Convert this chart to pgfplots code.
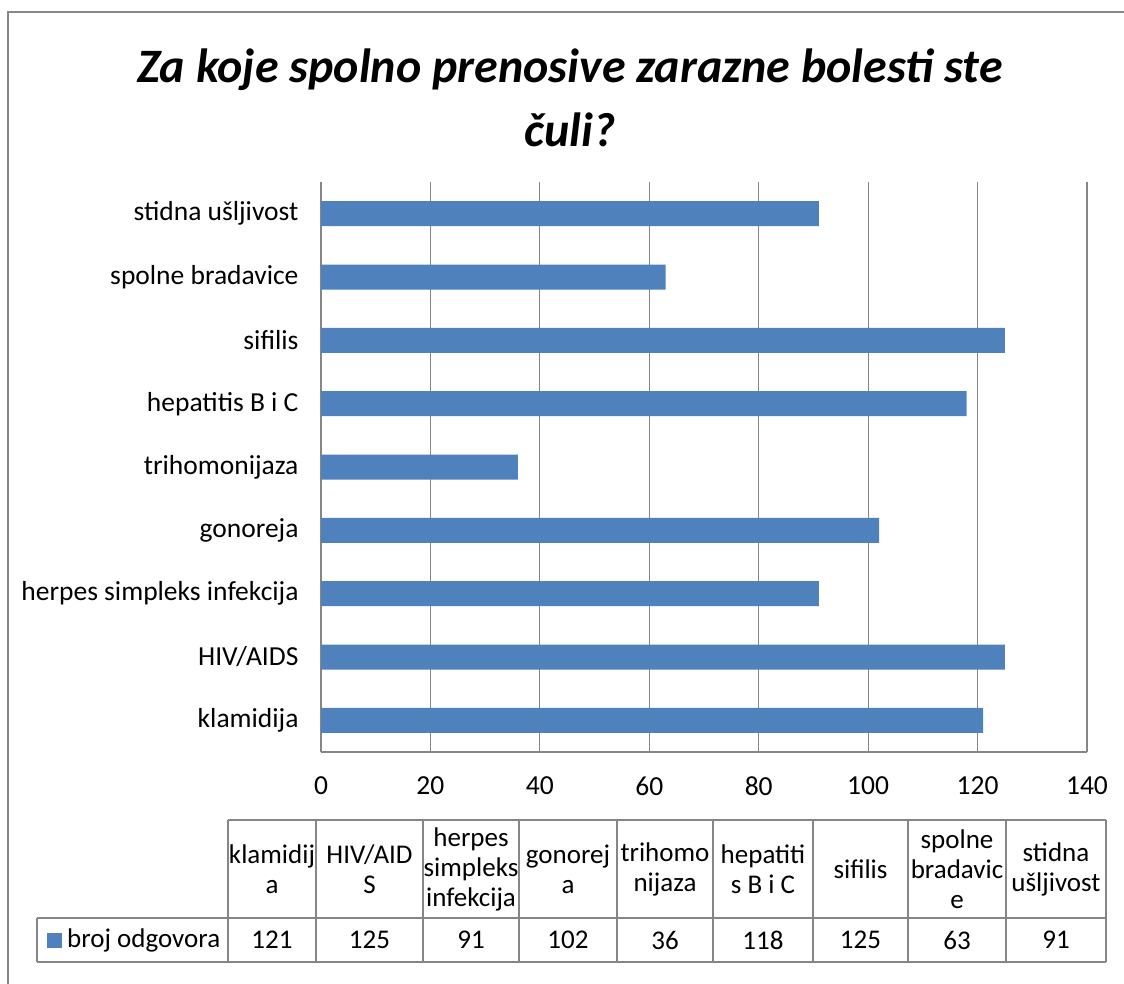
\documentclass[border=0pt]{standalone}
\usepackage{fontspec}
\setmainfont{Carlito}
\usepackage{pgfplots}
\pgfplotsset{compat=1.18}
\definecolor{barblue}{HTML}{4F81BD}
\definecolor{gridgray}{HTML}{868686}
\begin{document}
\begin{tikzpicture}[x=1pt,y=-1pt]
\useasboundingbox (0,0) rectangle (1124,983);
\draw[gridgray, line width=1.3pt] (8,990) -- (8,12) -- (1130,12);
\node[font=\fontsize{48}{56}\selectfont\bfseries\itshape] at (570,70) {Za koje spolno prenosive zarazne bolesti ste};
\node[font=\fontsize{48}{56}\selectfont\bfseries\itshape] at (570,130) {čuli?};
\begin{axis}[
  at={(321pt,-752pt)}, anchor=south west,
  scale only axis, width=766pt, height=570pt,
  xmin=0, xmax=140, ymin=-0.5, ymax=8.5,
  xtick={0,20,...,140}, ytick={0,...,8},
  yticklabels={klamidija,HIV/AIDS,herpes simpleks infekcija,gonoreja,trihomonijaza,hepatitis B i C,sifilis,spolne bradavice,stidna ušljivost},
  xmajorgrids, major grid style={gridgray, line width=1.2pt},
  axis x line*=bottom, axis y line*=left,
  axis line style={-, gridgray, line width=1.4pt},
  major tick length=0pt, tick style={draw=none},
  ticklabel style={font=\fontsize{27.5}{33}\selectfont},
  /pgf/number format/assume math mode=true,
  xticklabel style={yshift=-21pt},
  yticklabel style={xshift=-19pt},
  xbar, bar width=25pt,
]
\addplot[fill=barblue, draw=none] coordinates {(121,0) (125,1) (91,2) (102,3) (36,4) (118,5) (125,6) (63,7) (91,8)};
\end{axis}
% data table
\begin{scope}[gridgray, line width=1.2pt]
\draw (228,820) -- (1106,820);
\draw (37,918) -- (1106,918);
\draw (37,962) -- (1106,962);
\draw (37,918) -- (37,962);
\foreach \xx in {228,316,423,519,617,713,813,908,1006,1106} {\draw (\xx,820) -- (\xx,962);}
\end{scope}
\begin{scope}[every node/.style={font=\fontsize{27}{30}\selectfont, align=center, inner sep=0pt}]
\node at (272,869) {klamidij\\a};
\node at (369.5,869) {HIV/AID\\S};
\node at (471,869) {herpes\\simpleks\\infekcija};
\node at (568,869) {gonorej\\a};
\node at (665,869) {trihomo\\nijaza};
\node at (763,869) {hepatiti\\s B i C};
\node at (860.5,869) {sifilis};
\node at (957,869) {spolne\\bradavic\\e};
\node at (1056,869) {stidna\\ušljivost};
\fill[barblue] (47,933) rectangle (62,948);
\node[anchor=west] at (67,940) {broj odgovora};
\node at (272,940) {121};
\node at (369.5,940) {125};
\node at (471,940) {91};
\node at (568,940) {102};
\node at (665,940) {36};
\node at (763,940) {118};
\node at (860.5,940) {125};
\node at (957,940) {63};
\node at (1056,940) {91};
\end{scope}
\end{tikzpicture}
\end{document}
